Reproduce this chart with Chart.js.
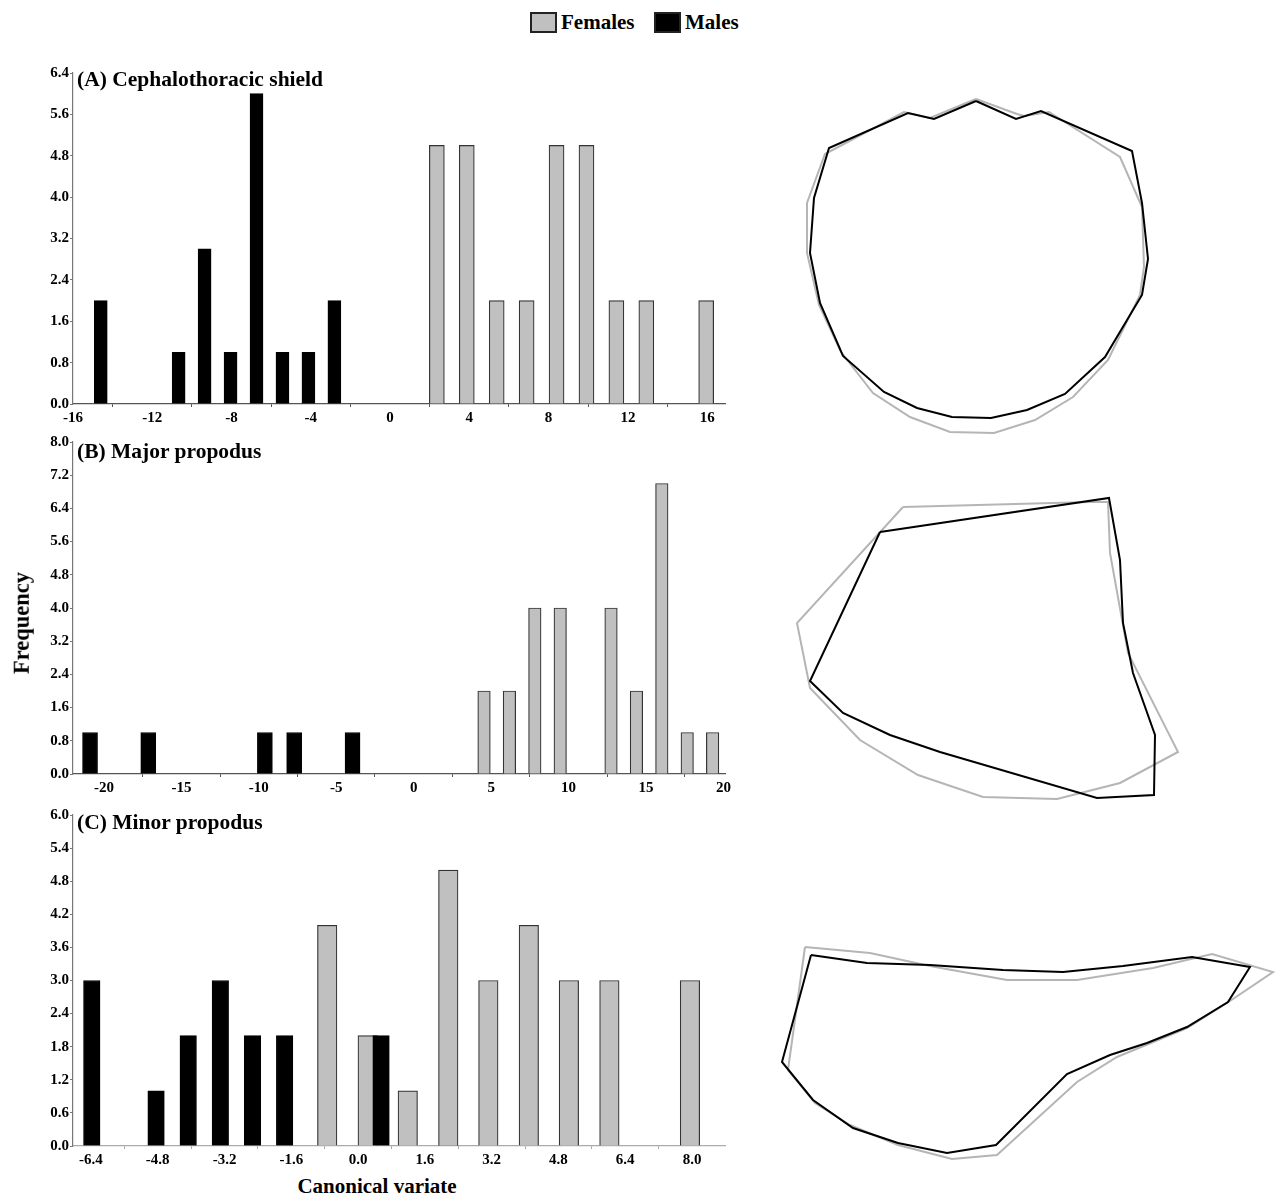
<!DOCTYPE html>
<html>
<head>
<meta charset="utf-8">
<script src="https://cdn.jsdelivr.net/npm/chart.js@4/dist/chart.umd.min.js"></script>
<style>
  html,body{margin:0;padding:0;background:#fff;}
  body{width:1278px;height:1196px;position:relative;overflow:hidden;font-family:'Liberation Serif','Times New Roman',serif;}
  canvas{position:absolute;}
  .t{position:absolute;font-weight:bold;color:#000;white-space:nowrap;line-height:1;}
  .box{position:absolute;box-sizing:border-box;border:2px solid #222;}
</style>
</head>
<body>
<div class="box" style="left:530px;top:12px;width:27px;height:21px;background:#c0c0c0;"></div>
<div class="t" style="left:561px;top:12px;font-size:21px;">Females</div>
<div class="box" style="left:654px;top:12px;width:27px;height:21px;background:#000;"></div>
<div class="t" style="left:685px;top:12px;font-size:21px;">Males</div>

<canvas id="cA" width="740" height="370" style="left:0;top:60px;"></canvas>
<canvas id="cB" width="740" height="370" style="left:0;top:430px;"></canvas>
<canvas id="cC" width="740" height="372" style="left:0;top:800px;"></canvas>
<canvas id="cO" width="518" height="1136" style="left:760px;top:60px;"></canvas>

<div class="t" style="left:77px;top:69px;font-size:21.5px;">(A) Cephalothoracic shield</div>
<div class="t" style="left:77px;top:441px;font-size:21.5px;">(B) Major propodus</div>
<div class="t" style="left:77px;top:812px;font-size:21.5px;">(C) Minor propodus</div>
<div class="t" style="left:22px;top:623px;font-size:22.5px;transform:translate(-50%,-50%) rotate(-90deg);">Frequency</div>
<div class="t" style="left:377px;top:1186px;font-size:21px;transform:translate(-50%,-50%);">Canonical variate</div>

<script>
// ---------- Panel A: Cephalothoracic shield ----------
const maleBinsA   = [-14.6, -13.29, -11.98, -10.67, -9.36, -8.05, -6.74, -5.43, -4.12, -2.81];
const maleCountsA = [2, 0, 0, 1, 3, 1, 6, 1, 1, 2];
const femBinsA    = [2.36, 3.87, 5.38, 6.89, 8.40, 9.91, 11.42, 12.93, 14.44, 15.95];
const femCountsA  = [5, 5, 2, 2, 5, 5, 2, 2, 0, 2];
const xTicksA = [-16, -12, -8, -4, 0, 4, 8, 12, 16];
const yTicksA = [0, 0.8, 1.6, 2.4, 3.2, 4.0, 4.8, 5.6, 6.4];

// ---------- Panel B: Major propodus ----------
const maleBinsB   = [-20.9, -19.02, -17.14, -15.26, -13.38, -11.5, -9.61, -7.72, -5.84, -3.95];
const maleCountsB = [1, 0, 1, 0, 0, 0, 1, 1, 0, 1];
const femBinsB    = [4.54, 6.18, 7.82, 9.46, 11.10, 12.74, 14.38, 16.02, 17.66, 19.30];
const femCountsB  = [2, 2, 4, 4, 0, 4, 2, 7, 1, 1];
const xTicksB = [-20, -15, -10, -5, 0, 5, 10, 15, 20];
const yTicksB = [0, 0.8, 1.6, 2.4, 3.2, 4.0, 4.8, 5.6, 6.4, 7.2, 8.0];

// ---------- Panel C: Minor propodus ----------
const maleBinsC   = [-6.38, -5.61, -4.84, -4.07, -3.30, -2.53, -1.76, -0.99, -0.22, 0.55];
const maleCountsC = [3, 0, 1, 2, 3, 2, 2, 0, 0, 2];
const femBinsC    = [-0.74, 0.23, 1.19, 2.16, 3.12, 4.09, 5.05, 6.02, 6.98, 7.95];
const femCountsC  = [4, 2, 1, 5, 3, 4, 3, 3, 0, 3];
const xTicksC = [-6.4, -4.8, -3.2, -1.6, 0.0, 1.6, 3.2, 4.8, 6.4, 8.0];
const yTicksC = [0, 0.6, 1.2, 1.8, 2.4, 3.0, 3.6, 4.2, 4.8, 5.4, 6.0];

// ---------- Mean outlines (page units) ----------
const shieldFemales = [[976,99],[1017,114],[1024,116],[1049,112],[1120,157],[1142,207],[1144,267],[1140,295],[1108,360],[1073,397],[1035,420],[994,433],[950,432],[910,417],[873,393],[841,352],[819,305],[807,253],[807,203],[825,154],[904,112],[930,118],[976,99]];
const shieldMales   = [[976,101],[1016,119],[1041,111],[1132,151],[1142,203],[1148,259],[1142,295],[1133,310],[1105,357],[1065,394],[1027,410],[991,418],[952,417],[917,408],[884,392],[843,356],[820,303],[810,253],[814,198],[829,148],[908,113],[934,119],[976,101]];
const majorFemales  = [[903,507],[1090,502],[1108,502],[1110,553],[1128,653],[1178,752],[1120,783],[1057,799],[983,797],[918,775],[860,740],[810,688],[797,623],[903,507]];
const majorMales    = [[880,532],[1109,498],[1120,560],[1123,623],[1133,673],[1155,735],[1154,795],[1097,798],[940,752],[890,735],[843,713],[810,681],[880,532]];
const minorFemales  = [[805,947],[870,953],[930,966],[1007,980],[1077,980],[1153,968],[1212,954],[1273,972],[1230,1001],[1187,1028],[1117,1057],[1077,1082],[997,1155],[952,1159],[898,1145],[850,1125],[815,1103],[788,1070],[805,947]];
const minorMales    = [[811,955],[867,963],[930,965],[1003,970],[1063,972],[1123,966],[1192,957],[1250,967],[1228,1002],[1187,1027],[1147,1043],[1110,1055],[1067,1074],[996,1145],[947,1153],[898,1143],[853,1128],[813,1100],[782,1062],[811,955]];

const FONT = "'Liberation Serif','Times New Roman',serif";

function pts(bins, counts){
  const out = [];
  bins.forEach((b,i)=>{ if(counts[i]>0) out.push({x:b, y:counts[i]}); });
  return out;
}

function hist(id, o){
  return new Chart(document.getElementById(id), {
    type:'bar',
    data:{datasets:[
      {label:'Males', data:pts(o.mb,o.mc), backgroundColor:'#000', borderColor:'#000', borderWidth:1, barThickness:o.mw, grouped:false, order:0},
      {label:'Females', data:pts(o.fb,o.fc), backgroundColor:'#c0c0c0', borderColor:'#333', borderWidth:1.2, barThickness:o.fw, grouped:false, order:1}
    ]},
    options:{
      responsive:false, animation:false, devicePixelRatio:1,
      layout:{padding:{left:0, right:o.padR, top:o.padT, bottom:0}},
      plugins:{legend:{display:false}, tooltip:{enabled:false}, title:{display:false}},
      scales:{
        x:{type:'linear', min:o.xmin, max:o.xmax, offset:false,
           afterBuildTicks:s=>{ s.ticks = o.xt.map(v=>({value:v})); },
           afterFit:s=>{ s.height = 26; },
           ticks:{autoSkip:false, maxRotation:0, color:'#000', padding:2, font:{family:FONT, size:15, weight:'bold'},
                  callback:v=> o.xdec ? Number(v).toFixed(1) : String(Math.round(v))},
           grid:{display:true, drawOnChartArea:false, drawTicks:true, tickLength:3, color:o.axisColor},
           border:{display:true, color:o.axisColor, width:1.2}},
        y:{min:0, max:o.yt[o.yt.length-1],
           afterBuildTicks:s=>{ s.ticks = o.yt.map(v=>({value:v})); },
           afterFit:s=>{ s.width = 73; },
           ticks:{autoSkip:false, color:'#000', padding:1, font:{family:FONT, size:15, weight:'bold'},
                  callback:v=>Number(v).toFixed(1)},
           grid:{display:true, drawOnChartArea:false, drawTicks:true, tickLength:3, color:'#777'},
           border:{display:true, color:'#777', width:1.2}}
      }
    }
  });
}

hist('cA', {mb:maleBinsA, mc:maleCountsA, fb:femBinsA, fc:femCountsA, xt:xTicksA, yt:yTicksA,
            xmin:-16, xmax:16.9, mw:13, fw:15, padR:15, padT:13, xdec:false, axisColor:'#555'});
hist('cB', {mb:maleBinsB, mc:maleCountsB, fb:femBinsB, fc:femCountsB, xt:xTicksB, yt:yTicksB,
            xmin:-22.0, xmax:20.1, mw:15, fw:12.5, padR:15, padT:12, xdec:false, axisColor:'#555'});
hist('cC', {mb:maleBinsC, mc:maleCountsC, fb:femBinsC, fc:femCountsC, xt:xTicksC, yt:yTicksC,
            xmin:-6.83, xmax:8.79, mw:16.5, fw:19.5, padR:15, padT:15, xdec:true, axisColor:'#aaa'});

function line(d, color, order){
  return {data:d.map(p=>({x:p[0], y:p[1]})), showLine:true, borderColor:color, borderWidth:2,
          pointRadius:0, fill:false, tension:0, order:order};
}
new Chart(document.getElementById('cO'), {
  type:'scatter',
  data:{datasets:[
    line(shieldMales,'#000',0), line(majorMales,'#000',0), line(minorMales,'#000',0),
    line(shieldFemales,'#b5b5b5',1), line(majorFemales,'#b5b5b5',1), line(minorFemales,'#b5b5b5',1)
  ]},
  options:{
    responsive:false, animation:false, devicePixelRatio:1,
    layout:{padding:0},
    plugins:{legend:{display:false}, tooltip:{enabled:false}},
    scales:{
      x:{type:'linear', min:760, max:1278, display:false},
      y:{type:'linear', min:60, max:1196, reverse:true, display:false}
    }
  }
});
</script>
</body>
</html>
